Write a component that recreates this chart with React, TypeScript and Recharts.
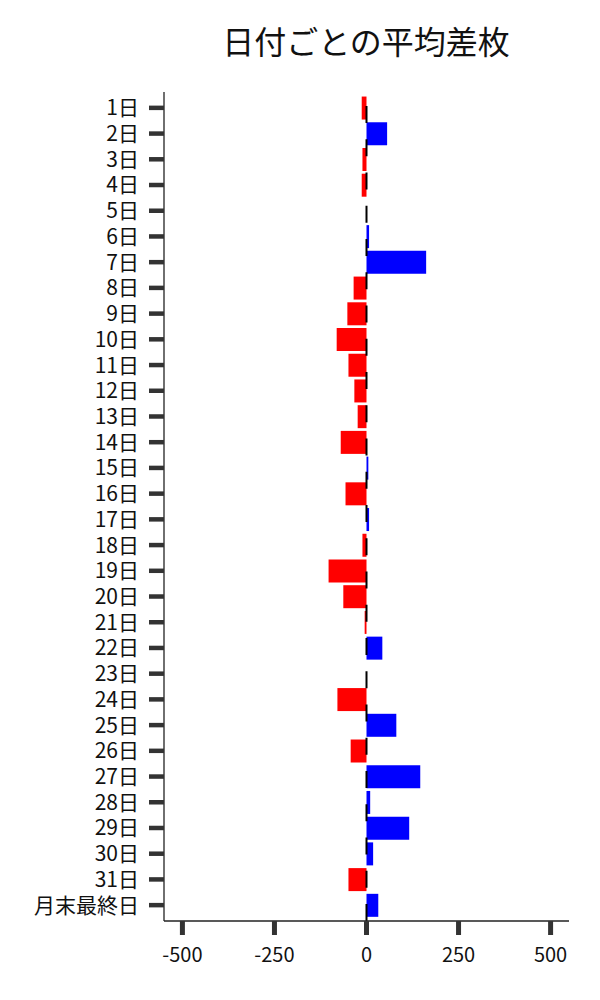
import { BarChart, Bar, XAxis, YAxis, Cell, ReferenceLine } from 'recharts'

const days = [
  '1日', '2日', '3日', '4日', '5日', '6日', '7日', '8日', '9日', '10日',
  '11日', '12日', '13日', '14日', '15日', '16日', '17日', '18日', '19日', '20日',
  '21日', '22日', '23日', '24日', '25日', '26日', '27日', '28日', '29日', '30日',
  '31日', '月末最終日',
]

const avgDiff = [
  -13, 56, -11, -13, 0, 7, 162, -35, -52, -81,
  -49, -33, -24, -70, 5, -57, 7, -11, -103, -63,
  -5, 43, 0, -79, 81, -43, 146, 10, 116, 18,
  -49, 32,
]

const xTicks = [-500, -250, 0, 250, 500]

const FONT = '"Noto Sans CJK JP", "Noto Sans", sans-serif'

export default function App() {
  // one row per day for the vertical bar chart
  const chartData = days.map((day, i) => ({ day, value: avgDiff[i] }))

  return (
    <div style={{ position: 'relative', width: 600, height: 1000, fontFamily: FONT }}>
      <style>{'body { margin: 0; }'}</style>
      <div
        style={{
          position: 'absolute',
          left: 166,
          width: 400,
          top: 22,
          textAlign: 'center',
          fontSize: 32,
          lineHeight: '36px',
          color: '#111',
        }}
      >
        日付ごとの平均差枚
      </div>
      <BarChart
        width={600}
        height={1000}
        data={chartData}
        layout="vertical"
        margin={{ top: 92, right: 31, bottom: 19, left: 0 }}
        barCategoryGap="6%"
      >
        <XAxis
          type="number"
          domain={[-550, 550]}
          ticks={xTicks}
          height={60}
          axisLine={{ stroke: '#222', strokeWidth: 1.3 }}
          tickLine={{ stroke: '#333', strokeWidth: 5 }}
          tickSize={14}
          tickMargin={13}
          tick={{ fill: '#111', fontSize: 20, fontFamily: FONT }}
        />
        <YAxis
          type="category"
          dataKey="day"
          width={164}
          interval={0}
          padding={{ top: 3, bottom: 3 }}
          axisLine={{ stroke: '#222', strokeWidth: 1.3 }}
          tickLine={{ stroke: '#333', strokeWidth: 4.5 }}
          tickSize={15}
          tickMargin={10}
          tick={{ fill: '#111', fontSize: 21, fontFamily: FONT }}
        />
        <Bar dataKey="value" isAnimationActive={false}>
          {chartData.map((d, i) => (
            <Cell key={i} fill={d.value >= 0 ? '#0000ff' : '#ff0000'} />
          ))}
        </Bar>
        <ReferenceLine
          x={0}
          stroke="#000"
          strokeWidth={2}
          strokeDasharray="17 16.25"
          shape={(p: any) => (
            <line
              x1={p.x1}
              x2={p.x2}
              y1={Math.max(p.y1, p.y2)}
              y2={Math.min(p.y1, p.y2)}
              stroke="#000"
              strokeWidth={2}
              strokeDasharray="17 16.25"
            />
          )}
        />
      </BarChart>
    </div>
  )
}
